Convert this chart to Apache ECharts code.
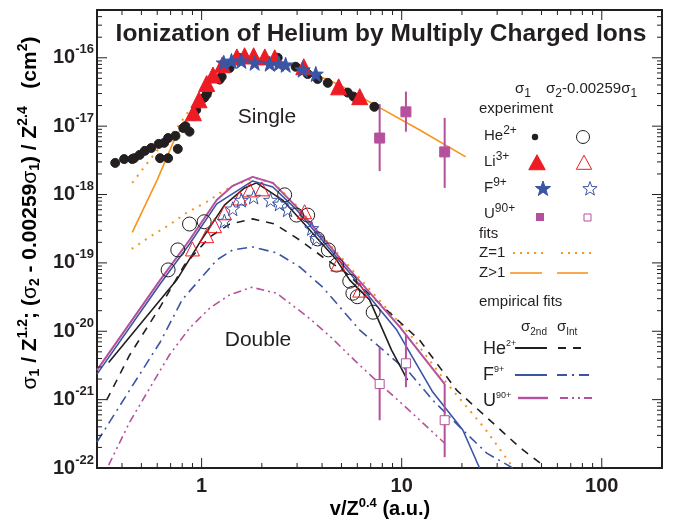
<!DOCTYPE html>
<html lang="en">
<head>
<meta charset="UTF-8">
<title>Ionization of Helium by Multiply Charged Ions</title>
<style>
  html, body { margin: 0; padding: 0; background: #fff; }
  #chart { width: 674px; height: 523px; }
</style>
</head>
<body>
<div id="chart"></div>
<script src="https://cdn.jsdelivr.net/npm/echarts@6/dist/echarts.min.js"></script>
<script>
// ---- data (x = v/Z^0.4 in a.u., y in cm^2) ----

// single ionization, sigma1 / Z^1.2
const heSingleX = [0.37, 0.41, 0.45, 0.46, 0.49, 0.52, 0.56, 0.61, 0.65, 0.68, 0.74, 0.62, 0.68, 0.76, 0.81, 0.83, 0.87, 0.91, 0.94, 1.03, 1.06, 1.07, 1.23, 1.26, 1.38, 1.53, 2.4, 2.95, 3.39, 3.8, 4.27, 5.37, 5.75, 7.3];
const heSingleY = [2.9e-18, 3.3e-18, 3.3e-18, 3.4e-18, 3.8e-18, 4.35e-18, 4.8e-18, 5.5e-18, 5.7e-18, 6.7e-18, 7.2e-18, 3.4e-18, 3.4e-18, 4.65e-18, 9.4e-18, 1.0e-17, 8.3e-18, 1.42e-17, 1.73e-17, 2.6e-17, 2.9e-17, 3.2e-17, 4.8e-17, 5.3e-17, 7.1e-17, 1.0e-16, 1.0e-16, 7.4e-17, 5.8e-17, 4.9e-17, 4.3e-17, 3.1e-17, 2.7e-17, 1.92e-17];
const liSingleX = [0.91, 0.97, 1.06, 1.14, 1.27, 1.5, 1.64, 1.82, 2.07, 2.32, 3.24, 4.84, 6.17];
const liSingleY = [1.57e-17, 2.43e-17, 4.2e-17, 5.6e-17, 7.9e-17, 1.03e-16, 1.07e-16, 1.07e-16, 1.03e-16, 1.0e-16, 7.4e-17, 3.76e-17, 2.7e-17];
const fSingleX = [1.29, 1.41, 1.58, 1.84, 2.19, 2.43, 2.63, 3.2, 3.72];
const fSingleY = [8.45e-17, 9.0e-17, 9.0e-17, 8.45e-17, 8.2e-17, 8.2e-17, 7.9e-17, 6.7e-17, 5.8e-17];
const uSingleX = [7.76, 10.5, 16.4];
const uSingleY = [6.7e-18, 1.62e-17, 4.2e-18];
const uSingleLo = [2.2e-18, 8.3e-18, 1.25e-18];
const uSingleHi = [2.1e-17, 3.2e-17, 1.32e-17];

// double ionization, (sigma2 - 0.00259 sigma1) / Z^2.4
const heDoubleX = [0.68, 0.76, 0.87, 1.03, 2.6, 2.98, 3.39, 3.8, 4.3, 4.73, 5.5, 5.7, 6.0, 7.2];
const heDoubleY = [7.9e-20, 1.55e-19, 3.7e-19, 4.0e-19, 9.9e-19, 5.0e-19, 5.0e-19, 2.24e-19, 1.55e-19, 9.3e-20, 5.4e-20, 3.6e-20, 3.2e-20, 1.9e-20];
const liDoubleX = [0.9, 1.06, 1.16, 1.3, 1.55, 1.74, 2.0, 3.27, 4.8, 6.17];
const liDoubleY = [1.6e-19, 2.5e-19, 3.5e-19, 5.4e-19, 8.9e-19, 1.17e-18, 1.21e-18, 5.6e-19, 9.6e-20, 4.0e-20];
const fDoubleX = [1.3, 1.43, 1.58, 1.82, 2.21, 2.45, 2.69, 3.55, 3.76];
const fDoubleY = [4.1e-19, 6.2e-19, 8.3e-19, 9.2e-19, 8.3e-19, 7.3e-19, 6.0e-19, 3.2e-19, 2.3e-19];
const uDoubleX = [7.76, 10.5, 16.4];
const uDoubleY = [1.69e-21, 3.4e-21, 5.0e-22];
const uDoubleLo = [5.0e-22, 1.52e-21, 1.44e-22];
const uDoubleHi = [5.9e-21, 8.8e-21, 1.69e-21];

// fits
const fitZgt1SingleX = [0.45, 0.6, 0.73, 0.87, 1.03, 1.23, 1.46, 1.74, 2.19, 3.1, 4.9, 7.8, 12.3, 20.9];
const fitZgt1SingleY = [2.8e-19, 1.64e-18, 6.3e-18, 1.51e-17, 3.2e-17, 6.2e-17, 8.7e-17, 1.0e-16, 9.8e-17, 7.1e-17, 4.0e-17, 1.85e-17, 8.8e-18, 3.55e-18];
const fitZ1SingleX = [0.45, 0.55, 0.65, 0.76, 0.87, 0.98];
const fitZ1SingleY = [1.48e-18, 3.2e-18, 5.9e-18, 9.8e-18, 1.73e-17, 2.6e-17];
const fitZ1DoubleX = [0.447, 0.55, 0.69, 0.84, 1.06, 1.26, 1.43, 1.84, 2.3, 3.0, 4.0, 5.5, 11.4, 16.8, 26, 35.9];
const fitZ1DoubleY = [1.6e-19, 2.4e-19, 3.6e-19, 5.4e-19, 7.8e-19, 1.09e-18, 1.34e-18, 1.75e-18, 1.45e-18, 6.8e-19, 2.5e-19, 8.7e-20, 7.9e-21, 1.74e-21, 3.8e-22, 1.03e-22];

// empirical fits
const he2ndX = [0.343, 0.75, 0.98, 1.3, 1.64, 1.88, 2.54, 3.35, 4.73, 5.5, 6.9, 8.9, 10.7];
const he2ndY = [3.5e-21, 5.6e-20, 2.0e-19, 7.0e-19, 1.25e-18, 1.48e-18, 8.3e-19, 3.4e-19, 1.1e-19, 5.6e-20, 2.9e-20, 5.3e-21, 1.93e-21];
const heIntX = [0.335, 0.437, 0.62, 0.82, 1.1, 1.38, 1.8, 2.32, 3.09, 4.03, 5.2, 12.3, 18.8, 26.6, 38.9, 50];
const heIntY = [9.8e-22, 4.5e-21, 2.26e-20, 9.3e-20, 2.4e-19, 3.7e-19, 4.4e-19, 3.7e-19, 2.16e-19, 1.22e-19, 7.4e-20, 7.4e-21, 1.38e-21, 5.5e-22, 2.0e-22, 1.14e-22];
const f2ndX = [0.3, 0.62, 0.87, 1.19, 1.8, 2.27, 2.98, 4.0, 5.5, 9.45, 14.3, 20.2, 24.5];
const f2ndY = [2.36e-21, 4.9e-20, 1.89e-19, 7.3e-19, 1.58e-18, 1.29e-18, 6.0e-19, 2.16e-19, 7.1e-20, 1.04e-20, 1.29e-21, 3.6e-22, 1.0e-22];
const fIntX = [0.3, 0.437, 0.62, 0.8, 1.19, 1.43, 1.8, 2.37, 3.1, 4.03, 6.17, 11.0, 14.3, 20.2, 26.6, 35.9];
const fIntY = [2.4e-22, 1.38e-21, 6.9e-21, 2.9e-20, 1.1e-19, 1.55e-19, 1.71e-19, 1.4e-19, 8.7e-20, 4.4e-20, 1.04e-20, 2.44e-21, 9.8e-22, 3.6e-22, 1.65e-22, 1.0e-22];
const u2ndX = [0.3, 0.62, 0.87, 1.19, 1.43, 1.8, 2.27, 2.98, 4.0, 5.5, 9.8, 16.4];
const u2ndY = [2.7e-21, 5.6e-20, 2.16e-19, 8.3e-19, 1.34e-18, 1.81e-18, 1.48e-18, 6.6e-19, 2.4e-19, 7.9e-20, 1.15e-20, 1.69e-21];
const uIntX = [0.343, 0.437, 0.55, 0.69, 0.87, 1.1, 1.38, 1.78, 2.37, 3.35, 4.37, 5.96, 8.0, 11.0, 16.4];
const uIntY = [1.1e-22, 4.7e-22, 1.47e-21, 4.5e-21, 1.11e-20, 2.19e-20, 3.4e-20, 4.4e-20, 3.6e-20, 1.67e-20, 8.5e-21, 3.5e-21, 1.58e-21, 6.8e-22, 2.3e-22];

// axes
const X_MIN = 0.3, X_MAX = 200;
const Y_MIN = 1e-22, Y_MAX = 5e-16;
const xTickLabels = [1, 10, 100];
const yTickExponents = [-22, -21, -20, -19, -18, -17, -16];

// echarts rounds tiny numbers to 20 decimals, so the y values go to the library in units of 1e-22 cm^2
const Y_UNIT = 1e-22;
const Y_UNIT_EXP = -22;

// ---- styling ----
const FONT = 'Liberation Sans, Arial, sans-serif';
const ORANGE = '#f7941d';
const RED = '#ed1c24';
const BLUE = '#3b55a5';
const PURPLE = '#b5519c';
const INK = '#231f20';

function pts(xs, ys) {
    return xs.map((x, i) => [x, ys[i] / Y_UNIT]);
}

function starPoints(cx, cy, r, ri) {
    let out = [];
    for (let k = 0; k < 10; k++) {
        let a = -Math.PI / 2 + k * Math.PI / 5;
        let rr = k % 2 ? ri : r;
        out.push([cx + rr * Math.cos(a), cy + rr * Math.sin(a)]);
    }
    return out;
}
const STAR = 'path://' + starPoints(0, 0, 10, 4).map((p, i) => (i ? 'L' : 'M') + p[0].toFixed(2) + ' ' + p[1].toFixed(2)).join(' ') + 'Z';

function lineSeries(xs, ys, color, type, width) {
    return {
        type: 'line', data: pts(xs, ys), symbol: 'none', silent: true, z: 2,
        lineStyle: { color: color, width: width || 1.6, type: type || 'solid' }
    };
}

function scatterSeries(xs, ys, symbol, size, fill, stroke, z) {
    return {
        type: 'scatter', data: pts(xs, ys), symbol: symbol, symbolSize: size, silent: true, z: z || 4,
        itemStyle: { color: fill, borderColor: stroke, borderWidth: 1, opacity: 1 }
    };
}

function errorBars(xs, lo, hi) {
    return {
        type: 'custom', silent: true, z: 3,
        data: xs.map((x, i) => [x, lo[i] / Y_UNIT, hi[i] / Y_UNIT]),
        encode: { x: 0, y: [1, 2] },
        renderItem: function (params, api) {
            let a = api.coord([api.value(0), api.value(1)]);
            let b = api.coord([api.value(0), api.value(2)]);
            return { type: 'line', shape: { x1: a[0], y1: a[1], x2: b[0], y2: b[1] }, style: { stroke: PURPLE, lineWidth: 2 } };
        }
    };
}

// tick marks inside the frame on all four sides, at 1..9 x 10^n
const yLo = Y_MIN / Y_UNIT, yHi = Y_MAX / Y_UNIT;
let xTicks = [];
for (let e = -1; e <= 2; e++) {
    for (let m = 1; m <= 9; m++) {
        let v = m * Math.pow(10, e);
        if (v >= X_MIN - 1e-9 && v <= X_MAX + 1e-9) xTicks.push([v, yLo, m === 1 ? 10 : 5]);
    }
}
let yTicks = [];
for (let e = 0; e <= 6; e++) {
    for (let m = 1; m <= 9; m++) {
        let v = m * Math.pow(10, e);
        if (v <= yHi * 1.0001) yTicks.push([X_MIN, v, m === 1 ? 10 : 5]);
    }
}

const tickSeriesX = {
    type: 'custom', silent: true, z: 10, clip: false, data: xTicks, encode: { x: 0, y: 1 },
    renderItem: function (params, api) {
        let v = api.value(0), len = api.value(2);
        let b = api.coord([v, yLo]), t = api.coord([v, yHi]);
        return { type: 'group', children: [
            { type: 'line', shape: { x1: b[0], y1: b[1], x2: b[0], y2: b[1] - len }, style: { stroke: INK, lineWidth: 1 } },
            { type: 'line', shape: { x1: t[0], y1: t[1], x2: t[0], y2: t[1] + len }, style: { stroke: INK, lineWidth: 1 } }
        ] };
    }
};
const tickSeriesY = {
    type: 'custom', silent: true, z: 10, clip: false, data: yTicks, encode: { x: 0, y: 1 },
    renderItem: function (params, api) {
        let v = api.value(1), len = api.value(2);
        let l = api.coord([X_MIN, v]), r = api.coord([X_MAX, v]);
        return { type: 'group', children: [
            { type: 'line', shape: { x1: l[0], y1: l[1], x2: l[0] + len, y2: l[1] }, style: { stroke: INK, lineWidth: 1 } },
            { type: 'line', shape: { x1: r[0], y1: r[1], x2: r[0] - len, y2: r[1] }, style: { stroke: INK, lineWidth: 1 } }
        ] };
    }
};

// ---- legend (drawn as graphic) ----
const legRich = {
    n: { fontSize: 15, fontFamily: FONT, color: INK },
    g: { fontSize: 15, fontFamily: FONT, color: INK },
    sub: { fontSize: 12, fontFamily: FONT, color: INK, padding: [9, 0, 0, 0] },
    sup: { fontSize: 12, fontFamily: FONT, color: INK, padding: [0, 0, 10, 0] },
    big: { fontSize: 18, fontFamily: FONT, color: INK },
    tiny: { fontSize: 9, fontFamily: FONT, color: INK, padding: [0, 0, 10, 0] },
    tsub: { fontSize: 10, fontFamily: FONT, color: INK, padding: [10, 0, 0, 0] }
};
function legText(x, y, text) {
    return { type: 'text', x: x, y: y, silent: true, style: { text: text, rich: legRich, align: 'left', verticalAlign: 'middle', fill: INK } };
}
function legLine(x1, x2, y, color, dash, width) {
    return { type: 'line', silent: true, shape: { x1: x1, y1: y, x2: x2, y2: y }, style: { stroke: color, lineWidth: width || 1.8, lineDash: dash || null } };
}
function tri(cx, cy, s, fill, stroke) {
    return { type: 'polygon', silent: true, shape: { points: [[cx, cy - s * 0.55], [cx + s * 0.55, cy + s * 0.45], [cx - s * 0.55, cy + s * 0.45]] }, style: { fill: fill, stroke: stroke, lineWidth: 1 } };
}
function star(cx, cy, r, fill, stroke) {
    return { type: 'polygon', silent: true, shape: { points: starPoints(cx, cy, r, r * 0.4) }, style: { fill: fill, stroke: stroke, lineWidth: 1 } };
}

const legend = [
    legText(515, 89, '{g|σ}{sub|1}'),
    legText(546, 89, '{g|σ}{sub|2}{n|-0.00259}{g|σ}{sub|1}'),
    legText(479, 109, '{n|experiment}'),
    legText(484, 136, '{n|He}{sup|2+}'),
    { type: 'circle', silent: true, shape: { cx: 535, cy: 137, r: 3.2 }, style: { fill: INK } },
    { type: 'circle', silent: true, shape: { cx: 583, cy: 137, r: 6.5 }, style: { fill: 'none', stroke: INK, lineWidth: 1 } },
    legText(484, 162, '{n|Li}{sup|3+}'),
    tri(537, 163, 15, RED, RED),
    tri(584, 163, 14, 'none', RED),
    legText(484, 188, '{n|F}{sup|9+}'),
    star(543, 189, 8, BLUE, BLUE),
    star(590, 189, 7.5, 'none', BLUE),
    legText(484, 214, '{n|U}{sup|90+}'),
    { type: 'rect', silent: true, shape: { x: 536, y: 213, width: 8, height: 8 }, style: { fill: PURPLE } },
    { type: 'rect', silent: true, shape: { x: 584, y: 214, width: 7, height: 7 }, style: { fill: 'none', stroke: PURPLE, lineWidth: 1 } },
    legText(479, 234, '{n|fits}'),
    legText(479, 253, '{n|Z=1}'),
    legLine(513, 543, 253, ORANGE, [2, 5], 2),
    legLine(561, 591, 253, ORANGE, [2, 5], 2),
    legText(479, 273, '{n|Z>1}'),
    legLine(510, 542, 273, ORANGE, null, 1.6),
    legLine(557, 588, 273, ORANGE, null, 1.6),
    legText(479, 302, '{n|empirical fits}'),
    legText(521, 327, '{g|σ}{tsub|2nd}'),
    legText(557, 327, '{g|σ}{tsub|Int}'),
    legText(483, 349, '{big|He}{tiny|2+}'),
    legLine(515, 547, 348, INK, null, 2),
    legLine(558, 584, 348, INK, [8, 7], 2),
    legText(483, 375, '{big|F}{tiny|9+}'),
    legLine(515, 547, 375, BLUE, null, 2),
    legLine(557, 589, 375, BLUE, [10, 5, 2, 5], 2),
    legText(483, 401, '{big|U}{tiny|90+}'),
    legLine(518, 548, 398, PURPLE, null, 2.4),
    legLine(560, 592, 398, PURPLE, [8, 4, 2, 4, 2, 4], 2)
];

const titleRich = {
    t: { fontSize: 21, fontWeight: 'bold', fontFamily: FONT, color: INK },
    g: { fontSize: 21, fontFamily: FONT, color: INK },
    sub: { fontSize: 14, fontWeight: 'bold', fontFamily: FONT, color: INK, padding: [11, 0, 0, 0] },
    sup: { fontSize: 14, fontWeight: 'bold', fontFamily: FONT, color: INK, padding: [0, 0, 13, 0] }
};
const xNameRich = {
    t: { fontSize: 20, fontWeight: 'bold', fontFamily: FONT, color: INK },
    sup: { fontSize: 13, fontWeight: 'bold', fontFamily: FONT, color: INK, padding: [0, 0, 12, 0] }
};

const texts = [
    { type: 'text', x: 381, y: 34, silent: true, style: { text: 'Ionization of Helium by Multiply Charged Ions', font: 'bold 24.5px ' + FONT, fill: INK, align: 'center', verticalAlign: 'middle' } },
    { type: 'text', x: 267, y: 117, silent: true, style: { text: 'Single', font: '21px ' + FONT, fill: INK, align: 'center', verticalAlign: 'middle' } },
    { type: 'text', x: 258, y: 340, silent: true, style: { text: 'Double', font: '21px ' + FONT, fill: INK, align: 'center', verticalAlign: 'middle' } },
    { type: 'text', x: 30, y: 213, rotation: Math.PI / 2, silent: true, style: {
        text: '{g|σ}{sub|1}{t| / Z}{sup|1.2}{t|; (}{g|σ}{sub|2}{t| - 0.00259}{g|σ}{sub|1}{t|) / Z}{sup|2.4}{t|   (cm}{sup|2}{t|)}',
        rich: titleRich, align: 'center', verticalAlign: 'middle' } },
    { type: 'text', x: 380, y: 509, silent: true, style: {
        text: '{t|v/Z}{sup|0.4}{t| (a.u.)}', rich: xNameRich, align: 'center', verticalAlign: 'middle' } }
];

let chart = echarts.init(document.getElementById('chart'), null, { renderer: 'canvas' });

let option = {
    animation: false,
    backgroundColor: '#fff',
    grid: { left: 97, right: 12, top: 10, bottom: 55, show: true, borderColor: INK, borderWidth: 2, backgroundColor: 'transparent' },
    xAxis: {
        type: 'log', logBase: 10, min: X_MIN, max: X_MAX,
        axisLine: { show: false }, axisTick: { show: false }, splitLine: { show: false },
        axisLabel: {
            interval: 0, margin: 8, color: INK, fontFamily: FONT, fontWeight: 'bold', fontSize: 20,
            formatter: function (v) {
                let r = Math.round(v);
                return xTickLabels.indexOf(r) >= 0 && Math.abs(v - r) < 1e-6 ? String(r) : '';
            }
        }
    },
    yAxis: {
        type: 'log', logBase: 10, min: yLo, max: yHi,
        axisLine: { show: false }, axisTick: { show: false }, splitLine: { show: false },
        axisLabel: {
            interval: 0, margin: 3, color: INK,
            formatter: function (v) {
                let e = Math.log10(v), r = Math.round(e);
                if (Math.abs(e - r) > 1e-6) return '';
                let ex = r + Y_UNIT_EXP;
                if (yTickExponents.indexOf(ex) < 0) return '';
                return '{a|10}{b|' + ex + '}';
            },
            rich: {
                a: { fontSize: 20, fontWeight: 'bold', fontFamily: FONT, color: INK },
                b: { fontSize: 13, fontWeight: 'bold', fontFamily: FONT, color: INK, padding: [0, 0, 16, 0] }
            }
        }
    },
    graphic: { elements: texts.concat(legend) },
    series: [
        tickSeriesX,
        tickSeriesY,
        lineSeries(fitZ1SingleX, fitZ1SingleY, ORANGE, [2, 6], 2),
        lineSeries(fitZgt1SingleX, fitZgt1SingleY, ORANGE, 'solid', 1.6),
        lineSeries(fitZ1DoubleX, fitZ1DoubleY, ORANGE, [2, 6], 2),
        lineSeries(heIntX, heIntY, INK, [8, 7], 1.6),
        lineSeries(fIntX, fIntY, BLUE, [10, 5, 2, 5], 1.6),
        lineSeries(uIntX, uIntY, PURPLE, [8, 4, 2, 4, 2, 4], 1.6),
        lineSeries(he2ndX, he2ndY, INK, 'solid', 1.6),
        lineSeries(f2ndX, f2ndY, BLUE, 'solid', 1.6),
        lineSeries(u2ndX, u2ndY, PURPLE, 'solid', 2),
        errorBars(uSingleX, uSingleLo, uSingleHi),
        errorBars(uDoubleX, uDoubleLo, uDoubleHi),
        scatterSeries(heDoubleX, heDoubleY, 'circle', 14, 'rgba(0,0,0,0)', INK),
        scatterSeries(liDoubleX, liDoubleY, 'triangle', 14, 'rgba(0,0,0,0)', RED),
        scatterSeries(fDoubleX, fDoubleY, STAR, 14, 'rgba(0,0,0,0)', BLUE),
        scatterSeries(uDoubleX, uDoubleY, 'rect', 9, '#fff', PURPLE, 5),
        scatterSeries(heSingleX, heSingleY, 'circle', 9, INK, INK),
        scatterSeries(liSingleX, liSingleY, 'triangle', 16, RED, RED),
        scatterSeries(fSingleX, fSingleY, STAR, 15, BLUE, BLUE),
        scatterSeries(uSingleX, uSingleY, 'rect', 10, PURPLE, PURPLE, 5)
    ]
};

chart.setOption(option);
</script>
</body>
</html>
